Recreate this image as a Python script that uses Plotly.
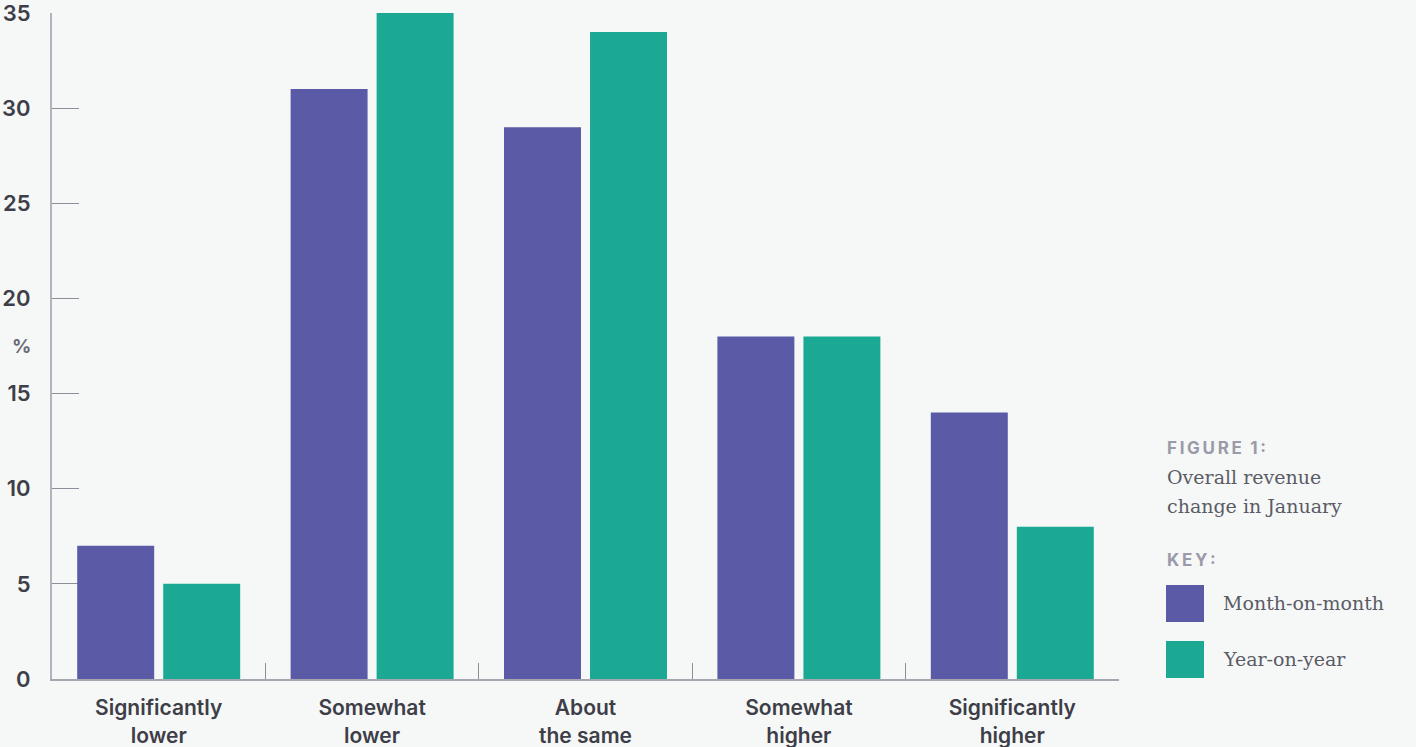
import plotly.graph_objects as go

# Survey responses: share of businesses by revenue change
categories = ["Significantly<br>lower", "Somewhat<br>lower", "About<br>the same",
              "Somewhat<br>higher", "Significantly<br>higher"]
month_on_month = [7, 31, 29, 18, 14]
year_on_year = [5, 35, 34, 18, 8]
y_ticks = [0, 5, 10, 15, 20, 25, 30, 35]

PURPLE = "#5a5aa6"
GREEN = "#1ba994"
BG = "#f6f8f7"
DARK = "#3e3e48"
SANS = "Inter"
SERIF = "DejaVu Serif"

W, H = 1416, 747
M_L, M_R, M_T, M_B = 52, 297, 13, 68
plot_w = W - M_L - M_R
plot_h = H - M_T - M_B


def px_x(px):
    return (px - M_L) / plot_w


def px_y(py):
    return (H - M_B - py) / plot_h


def spaced(s):
    return "\u2009".join(s)


fig = go.Figure()
fig.add_trace(go.Bar(x=categories, y=month_on_month, name="Month-on-month",
                     marker=dict(color=PURPLE, line=dict(width=0))))
fig.add_trace(go.Bar(x=categories, y=year_on_year, name="Year-on-year",
                     marker=dict(color=GREEN, line=dict(width=0))))

fig.update_layout(
    width=W, height=H,
    margin=dict(l=M_L, r=M_R, t=M_T, b=M_B, pad=0, autoexpand=False),
    paper_bgcolor=BG, plot_bgcolor=BG,
    barmode="group", bargap=0.194, bargroupgap=0.105,
    showlegend=False,
    font=dict(family=SANS, color=DARK),
)

fig.update_xaxes(
    type="category", range=[-0.5, 4.5], automargin=False,
    showline=True, linecolor="#a6a6ae", linewidth=2,
    ticks="inside", tickson="boundaries", ticklen=16, tickwidth=1.3, tickcolor="#8e8e98",
    tickfont=dict(family=SANS, size=21, color=DARK, weight=600),
    ticklabelstandoff=9, ticklabeloverflow="allow",
    showgrid=False, zeroline=False,
)

fig.update_yaxes(
    range=[0, 35], tickvals=y_ticks, ticktext=[str(v) for v in y_ticks], automargin=False,
    showline=True, linecolor="#b2b2bc", linewidth=2,
    ticks="inside", ticklen=27, tickwidth=1.3, tickcolor="#8e8e98",
    tickfont=dict(family=SANS, size=22, color=DARK, weight=600),
    ticklabelstandoff=15, ticklabeloverflow="allow",
    showgrid=False, zeroline=False, layer="below traces",
)

# Axis unit label
fig.add_annotation(text="%", xref="paper", yref="paper", x=px_x(21), y=px_y(346),
                   showarrow=False, xanchor="center", yanchor="middle",
                   font=dict(family=SANS, size=19, color="#6a6a76", weight=700))

# Caption and key
fig.add_annotation(text=spaced("FIGURE") + "\u2002" + spaced("1:"), xref="paper", yref="paper",
                   x=px_x(1165), y=px_y(448), showarrow=False,
                   xanchor="left", yanchor="middle",
                   font=dict(family=SANS, size=17, color="#9a9aa8", weight=700))
for line, py in [("Overall revenue", 477), ("change in January", 506)]:
    fig.add_annotation(text=line, xref="paper", yref="paper",
                       x=px_x(1165), y=px_y(py), showarrow=False,
                       xanchor="left", yanchor="middle",
                       font=dict(family=SERIF, size=19, color="#5b5b66"))
fig.add_annotation(text=spaced("KEY:"), xref="paper", yref="paper",
                   x=px_x(1165), y=px_y(560), showarrow=False,
                   xanchor="left", yanchor="middle",
                   font=dict(family=SANS, size=17, color="#9a9aa8", weight=700))

for name, color, top in [("Month-on-month", PURPLE, 585), ("Year-on-year", GREEN, 641)]:
    fig.add_shape(type="rect", xref="paper", yref="paper",
                  x0=px_x(1166), x1=px_x(1204), y0=px_y(top + 37), y1=px_y(top),
                  fillcolor=color, line=dict(width=0))
    fig.add_annotation(text=name, xref="paper", yref="paper",
                       x=px_x(1221), y=px_y(top + 18), showarrow=False,
                       xanchor="left", yanchor="middle",
                       font=dict(family=SERIF, size=19, color="#5b5b66"))

fig.write_html("out.html")
